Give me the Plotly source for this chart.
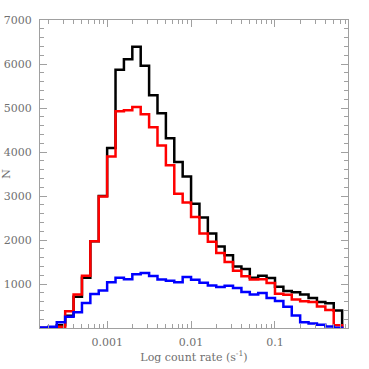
import numpy as np
import plotly.graph_objects as go

# histogram bins: log10(rate) from -3.8 to -0.2 in 0.1 dex steps
log_edges = [round(-3.8 + 0.1 * i, 2) for i in range(37)]

black_counts = [0, 10, 60, 280, 710, 1140, 1970, 3000, 4090, 5870, 6110, 6390,
                5960, 5290, 4880, 4315, 3770, 3445, 2825, 2510, 2145, 1855,
                1655, 1400, 1340, 1140, 1190, 1135, 940, 840, 815, 760, 680,
                590, 565, 400]
red_counts = [0, 0, 30, 380, 760, 1190, 1970, 2990, 3900, 4925, 4950, 5020,
              4860, 4560, 4145, 3700, 3050, 2850, 2520, 2150, 1960, 1705,
              1500, 1300, 1175, 1100, 1110, 1020, 780, 755, 645, 610, 590,
              490, 410, 60]
blue_counts = [10, 30, 130, 255, 360, 570, 770, 850, 1040, 1140, 1110, 1220,
               1250, 1180, 1100, 1075, 1040, 1160, 1095, 1030, 965, 930, 960,
               910, 820, 760, 795, 680, 615, 485, 285, 130, 100, 75, 35, 5]

x_tickvals = [0.001, 0.01, 0.1]
x_ticktext = ["0.001", "0.01", "0.1"]
x_minor_vals = [m * 10 ** d for d in range(-4, 0) for m in range(2, 10)]
y_tickvals = [1000, 2000, 3000, 4000, 5000, 6000, 7000]

edges = [10 ** e for e in log_edges]


def step_xy(counts):
    xs = list(edges[:-1]) + [edges[-1]]
    ys = list(counts) + [0]
    return xs, ys


fig = go.Figure()
for counts, color in [(black_counts, "black"), (red_counts, "#ff0000"),
                      (blue_counts, "#0000ff")]:
    xs, ys = step_xy(counts)
    fig.add_trace(go.Scatter(x=xs, y=ys, mode="lines",
                             line=dict(color=color, width=2.5, shape="hv"),
                             showlegend=False, hoverinfo="skip"))

axis_col = "#a0a0a0"
font_col = "#707070"
fnt = dict(family="DejaVu Serif", size=11, color=font_col)

fig.update_layout(
    width=369, height=369,
    margin=dict(l=40, r=21, t=20, b=41, autoexpand=False),
    paper_bgcolor="white", plot_bgcolor="white",
    font=fnt,
    xaxis=dict(type="log", range=[-3.8, -0.13], automargin=False,
               tickvals=x_tickvals, ticktext=x_ticktext,
               ticks="inside", ticklen=7, tickcolor=axis_col, tickwidth=1,
               showline=True, linecolor=axis_col, linewidth=1, mirror="ticks",
               showgrid=False, zeroline=False, ticklabelstandoff=4,
               minor=dict(tickvals=x_minor_vals, ticks="inside", ticklen=4,
                          tickcolor=axis_col, showgrid=False),
               title=dict(text="Log count rate (s<sup>-1</sup>)", font=fnt,
                          standoff=1)),
    yaxis=dict(range=[0, 7000], tickvals=y_tickvals, automargin=False,
               ticks="inside", ticklen=7, tickcolor=axis_col, tickwidth=1,
               showline=True, linecolor=axis_col, linewidth=1, mirror="ticks",
               showgrid=False, zeroline=False, ticklabelstandoff=5,
               minor=dict(dtick=200, ticks="inside", ticklen=4,
                          tickcolor=axis_col, showgrid=False),
               title=dict(text="N", font=fnt, standoff=2)),
)

fig.write_html("out.html", config={"displayModeBar": False},
               post_script="document.body.style.margin='0';"
                           "document.body.style.overflow='hidden';")
